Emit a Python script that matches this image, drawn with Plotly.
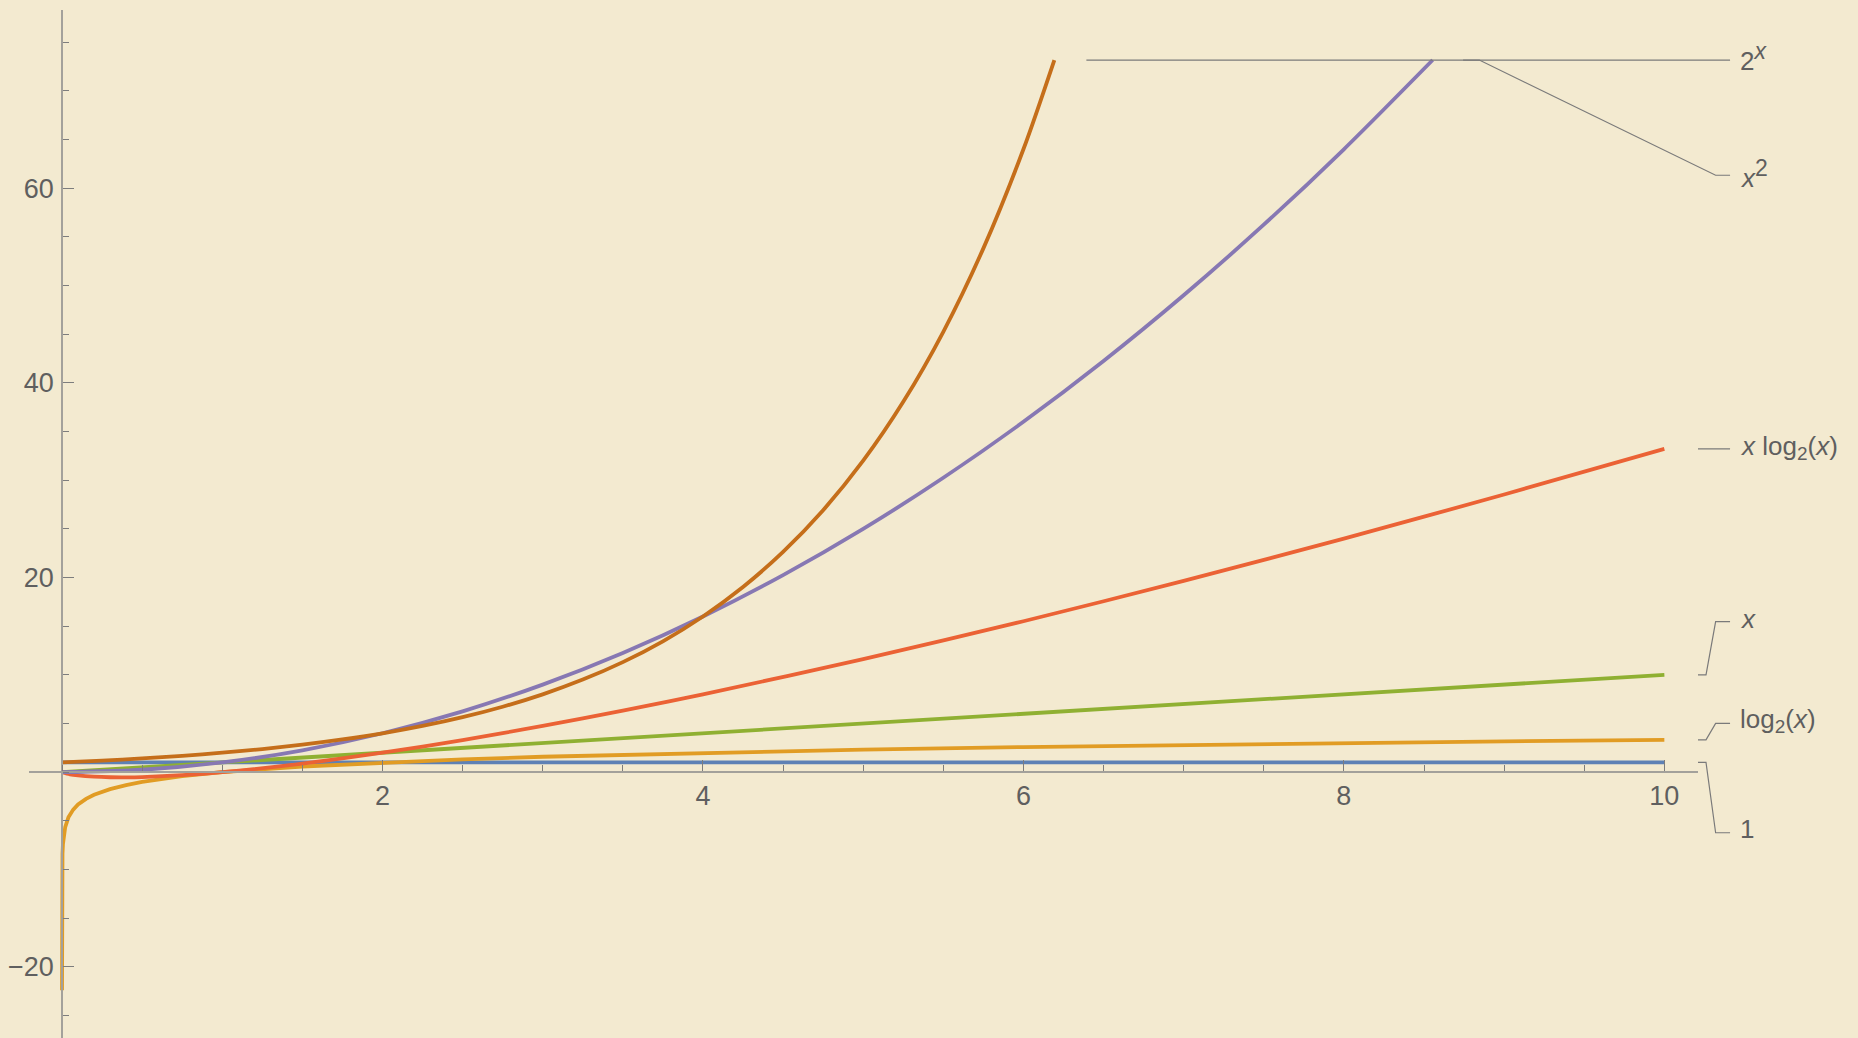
import plotly.graph_objects as go

# ---- data: sampled values of each growth function ----
const_x = [0, 10]
const_y = [1, 1]

log_x = [1.8e-7, 1e-5, 1e-4, 0.001, 0.003, 0.006, 0.01, 0.02, 0.04, 0.07, 0.1, 0.15,
         0.2, 0.3, 0.4, 0.5, 0.75, 1, 1.5, 2, 2.5, 3, 4, 5, 6, 7, 8, 9, 10]
log_y = [-22.4, -16.61, -13.29, -9.97, -8.38, -7.38, -6.64, -5.64, -4.64, -3.84, -3.32, -2.74,
         -2.32, -1.74, -1.32, -1.0, -0.415, 0.0, 0.585, 1.0, 1.32, 1.585, 2.0, 2.32, 2.585, 2.81,
         3.0, 3.17, 3.32]

lin_x = [0, 10]
lin_y = [0, 10]

xlog_x = [0, 0.05, 0.1, 0.2, 0.3, 0.4, 0.5, 0.75, 1, 1.5, 2, 2.5, 3, 3.5, 4, 5, 6, 7, 8, 9, 10]
xlog_y = [0, -0.216, -0.332, -0.464, -0.521, -0.529, -0.5, -0.311, 0, 0.877, 2.0, 3.30, 4.75, 6.33,
          8.0, 11.61, 15.51, 19.65, 24.0, 28.53, 33.22]

sq_x = [0, 0.5, 1, 1.5, 2, 2.5, 3, 3.5, 4, 4.5, 5, 5.5, 6, 6.5, 7, 7.5, 8, 8.554]
sq_y = [0, 0.25, 1, 2.25, 4, 6.25, 9, 12.25, 16, 20.25, 25, 30.25, 36, 42.25, 49, 56.25, 64, 73.17]

exp_x = [0, 0.25, 0.5, 0.75, 1, 1.25, 1.5, 1.75, 2, 2.25, 2.5, 2.75, 3, 3.25, 3.5, 3.75, 4,
         4.25, 4.5, 4.75, 5, 5.25, 5.5, 5.75, 6, 6.193]
exp_y = [1, 1.189, 1.414, 1.682, 2, 2.378, 2.828, 3.364, 4, 4.757, 5.657, 6.727, 8, 9.514,
         11.31, 13.45, 16, 19.03, 22.63, 26.91, 32, 38.05, 45.25, 53.82, 64, 73.17]

SUP = "<sup><span style='font-size:23px'>{}</span></sup>"
SUB = "<sub><span style='font-size:19px'>2</span></sub>"
series_labels = ["1", "log" + SUB + "(<i>x</i>)", "<i>x</i>",
                 "<i>x</i> log" + SUB + "(<i>x</i>)",
                 "<i>x</i>" + SUP.format("2"), "2" + SUP.format("<i>x</i>")]
series_colors = ["#5E81B5", "#E19C24", "#8FB032", "#EB6235", "#8778B3", "#C56E1A"]
series_shapes = ["linear", "linear", "linear", "spline", "spline", "spline"]

x_tickvals = [2, 4, 6, 8, 10]
y_tickvals = [-20, 20, 40, 60]

X_RANGE = [-0.206, 10.21]
Y_RANGE = [-27.31, 78.31]

BG = "#F3EAD0"
TEXT = "#5f5f5f"
FONT = "Liberation Sans, Arial, sans-serif"


def fx(v):
    return (v - X_RANGE[0]) / (X_RANGE[1] - X_RANGE[0])


def fy(v):
    return (v - Y_RANGE[0]) / (Y_RANGE[1] - Y_RANGE[0])


fig = go.Figure()
all_series = [(const_x, const_y), (log_x, log_y), (lin_x, lin_y),
              (xlog_x, xlog_y), (sq_x, sq_y), (exp_x, exp_y)]
for (xs, ys), col, name, shp in zip(all_series, series_colors, series_labels, series_shapes):
    fig.add_trace(go.Scatter(x=xs, y=ys, mode="lines", name=name,
                             line=dict(color=col, width=3.8, shape=shp, smoothing=0.8),
                             showlegend=False, hoverinfo="skip"))

# ---- callout labels on the right ----
LEAD = "#7a7a7a"
shapes = []
annotations = []


def leader(points):
    path = "M " + " L ".join(f"{fx(a)},{fy(b)}" for a, b in points)
    shapes.append(dict(type="path", path=path, xref="paper", yref="paper",
                       line=dict(color=LEAD, width=1.2)))


def label(text, y, shift=2.5):
    annotations.append(dict(text=text, x=fx(10.46), y=fy(y), xref="paper", yref="paper",
                            xanchor="left", yanchor="middle", showarrow=False, yshift=shift,
                            font=dict(family=FONT, size=26, color=TEXT)))


x_end = 10.21
elbow_a, elbow_b, tip = 10.26, 10.32, 10.41

# 2^x and x^2 leave the plot at the top
leader([(exp_x[-1] + 0.2, exp_y[-1]), (tip, exp_y[-1])])
label(series_labels[5], exp_y[-1], shift=3)
leader([(sq_x[-1] + 0.19, sq_y[-1]), (8.845, sq_y[-1]), (elbow_b, 61.33), (tip, 61.33)])
label(series_labels[4], 61.33, shift=1.5)

leader([(x_end, xlog_y[-1]), (tip, xlog_y[-1])])
label(series_labels[3], xlog_y[-1], shift=1.5)

leader([(x_end, lin_y[-1]), (elbow_a, lin_y[-1]), (elbow_b, 15.46), (tip, 15.46)])
label(series_labels[2], 15.46)

leader([(x_end, log_y[-1]), (elbow_a, log_y[-1]), (elbow_b, 5.02), (tip, 5.02)])
label(series_labels[1], 5.02)

leader([(x_end, const_y[-1]), (elbow_a, const_y[-1]), (elbow_b, -6.22), (tip, -6.22)])
label(series_labels[0], -6.22, shift=3.5)

axis_common = dict(showgrid=False, zeroline=False, showline=True, linecolor="#a3a19b",
                   linewidth=1.8, ticks="inside", tickcolor="#7d7d7d", tickwidth=1,
                   tickfont=dict(family=FONT, size=27, color=TEXT),
                   tickmode="array", anchor="free", automargin=False, fixedrange=True)

fig.update_layout(
    width=1858, height=1038,
    margin=dict(l=29, r=160.3, t=10, b=0),
    paper_bgcolor=BG, plot_bgcolor=BG,
    xaxis=dict(range=X_RANGE, tickvals=x_tickvals, ticklen=11,
               position=fy(0), side="bottom", ticklabelstandoff=0,
               minor=dict(tickmode="linear", tick0=0, dtick=0.5, ticks="inside",
                          ticklen=6.5, tickcolor="#7d7d7d", tickwidth=1),
               **axis_common),
    yaxis=dict(range=Y_RANGE, tickvals=y_tickvals, ticklen=10.7,
               position=fx(0), side="left", ticklabelstandoff=2,
               minor=dict(tickmode="linear", tick0=0, dtick=5, ticks="inside",
                          ticklen=6.3, tickcolor="#7d7d7d", tickwidth=1),
               **axis_common),
    shapes=shapes,
    annotations=annotations,
)

fig.write_html("out.html")
